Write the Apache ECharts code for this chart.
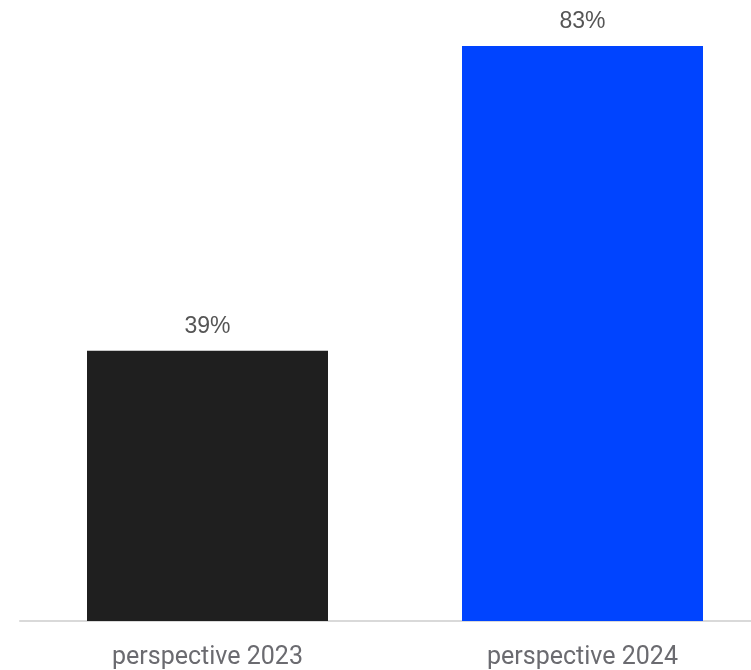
<!DOCTYPE html>
<html>
<head>
<meta charset="utf-8">
<script src="https://cdn.jsdelivr.net/npm/echarts@6/dist/echarts.min.js"></script>
<style>
html,body{margin:0;padding:0;background:#fff;overflow:hidden;}
#wrap{width:751px;height:670px;overflow:hidden;}
#chart{width:770px;height:670px;}
</style>
</head>
<body>
<div id="wrap"><div id="chart"></div></div>
<script>
const categories = ["perspective 2023", "perspective 2024"];
const values = [39, 83];
const barColors = ["#1f1f1f", "#0044ff"];

const chart = echarts.init(document.getElementById('chart'), null, {renderer: 'canvas'});
chart.setOption({
  animation: false,
  backgroundColor: '#ffffff',
  grid: {left: 20, right: 0, top: 46, bottom: 48, containLabel: false},
  xAxis: {
    type: 'category',
    data: categories,
    axisLine: {show: true, lineStyle: {color: '#d9d9d9', width: 2}},
    axisTick: {show: false},
    axisLabel: {color: '#6b6b70', fontSize: 25, fontFamily: 'Roboto', margin: 24}
  },
  yAxis: {
    type: 'value',
    min: 0,
    max: 83,
    show: false,
    splitLine: {show: false}
  },
  series: [{
    type: 'bar',
    barWidth: 241,
    data: values.map((v, i) => ({value: v, itemStyle: {color: barColors[i]}})),
    label: {
      show: true,
      position: 'top',
      distance: 13,
      formatter: '{c}%',
      color: '#555555',
      fontSize: 23,
      fontFamily: 'Liberation Sans'
    }
  }]
});
</script>
</body>
</html>
